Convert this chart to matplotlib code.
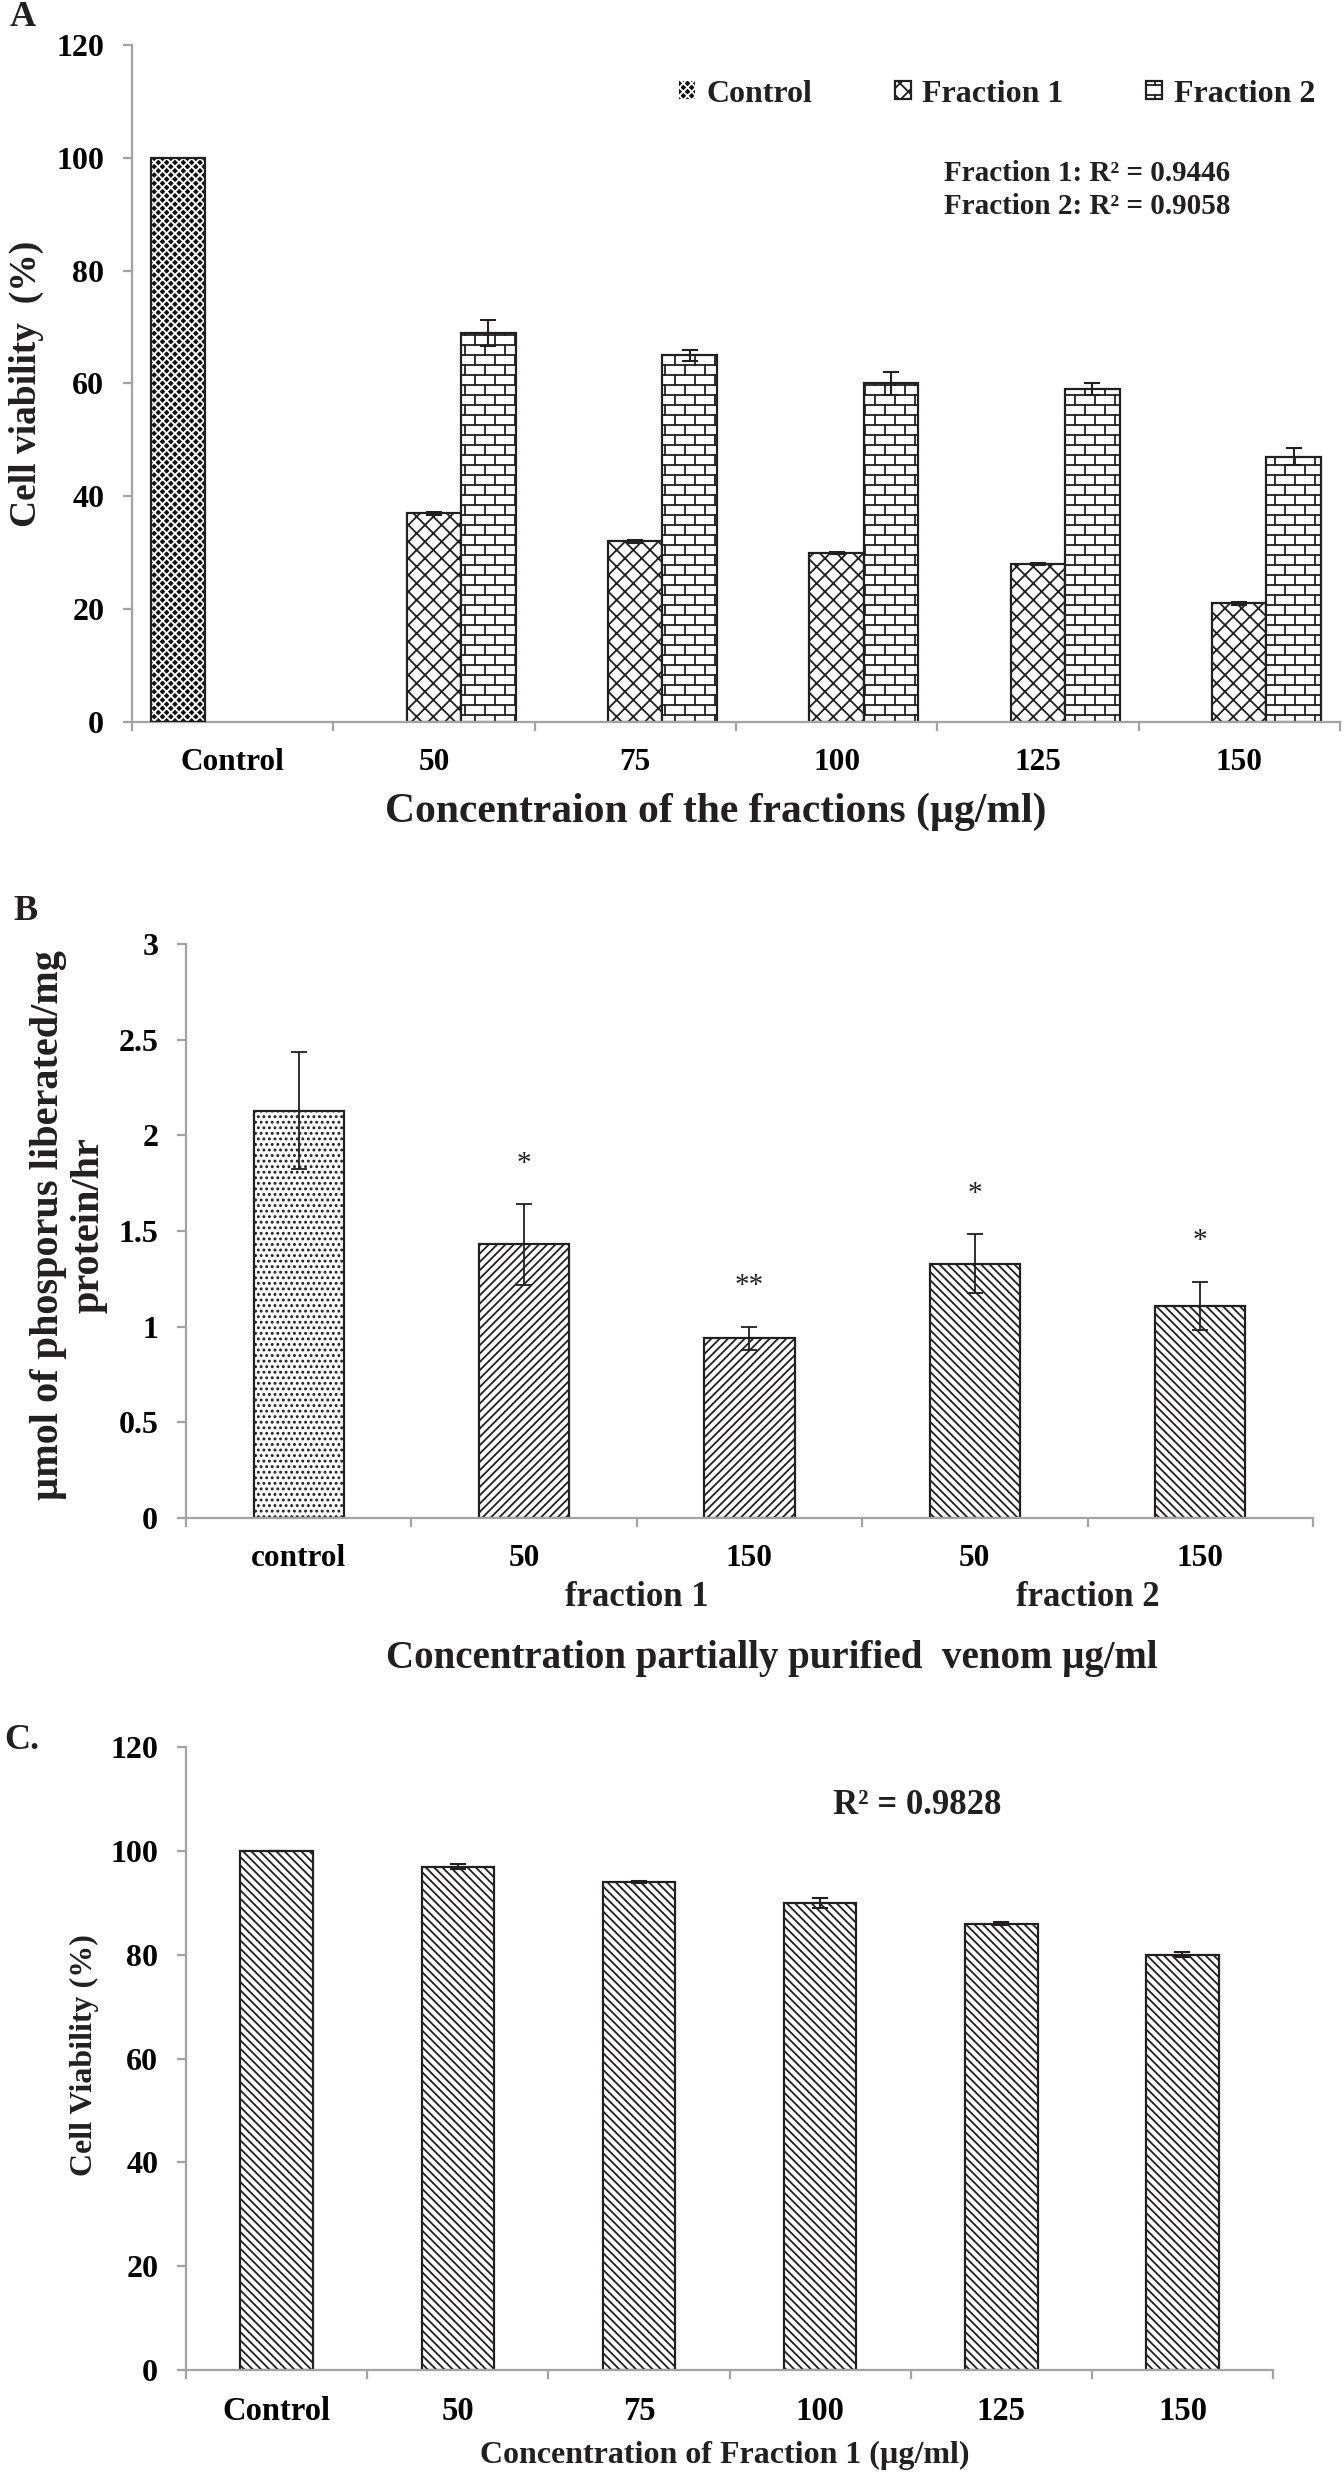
"""三联图: (A) 两个组分的细胞活力, (B) 磷释放量, (C) Fraction 1 细胞活力.

Excel 风格的黑白填充柱状图, 用 matplotlib 重画.
"""
import numpy as np
import matplotlib
matplotlib.use("Agg")
import matplotlib.pyplot as plt
from matplotlib import hatch as mhatch
from matplotlib.path import Path as MPath
from matplotlib.ticker import FixedLocator, NullFormatter

plt.rcParams["font.family"] = ["Liberation Serif", "DejaVu Serif"]
plt.rcParams["font.weight"] = "bold"
plt.rcParams["hatch.linewidth"] = 1.3

INK = "#231f20"
AXIS_GRAY = "#a3a3a3"
plt.rcParams["text.color"] = INK

# ---- A: cell viability, two fractions ----
a_categories = ["Control", "50", "75", "100", "125", "150"]
a_control = [100]
a_frac1 = [37, 32, 30, 28, 21]
a_frac1_err = [0.3, 0.3, 0.2, 0.2, 0.3]
a_frac2 = [69, 65, 60, 59, 47]
a_frac2_err = [2.3, 1.0, 2.0, 1.0, 1.5]
a_r2_frac1 = 0.9446
a_r2_frac2 = 0.9058

# ---- B: phosphorus liberated ----
b_labels = ["control", "50", "150", "50", "150"]
b_values = [2.13, 1.43, 0.94, 1.33, 1.11]
b_err = [0.305, 0.21, 0.06, 0.155, 0.125]
b_stars = ["", "*", "**", "*", "*"]
b_groups = ["fraction 1", "fraction 2"]
b_group_members = [(1, 2), (3, 4)]

# ---- C: cell viability, fraction 1 ----
c_categories = ["Control", "50", "75", "100", "125", "150"]
c_values = [100, 97, 94, 90, 86, 80]
c_err = [0, 0.5, 0.2, 0.9, 0.3, 0.5]
c_r2 = 0.9828


class BrickHatch(mhatch.HatchPatternBase):
    """砖墙填充, 借用 'O' 这个字符 (原本是大圆圈)."""

    def __init__(self, hatch, density):
        self.rows = int(hatch.count("O") * density * 5 / 3) // 2 * 2
        self.cols = self.rows // 2
        if self.rows:
            self.num_vertices = (self.rows + self.rows * self.cols + self.cols) * 2
        else:
            self.num_vertices = 0

    def set_vertices_and_codes(self, vertices, codes):
        nr, nc = self.rows, self.cols
        segs = []
        for r in range(nr):
            y0 = (r + 0.5) / nr
            segs.append([(0.0, y0), (1.0, y0)])
            shift = 0.25 if r % 2 == 0 else 0.75
            for c in range(nc):
                x = (c + shift) / nc
                segs.append([(x, y0), (x, min(1.0, y0 + 1.0 / nr))])
        # 最上面一行砖跨过图块边界, 底部补一截
        for c in range(nc):
            x = (c + 0.75) / nc
            segs.append([(x, 0.0), (x, 0.5 / nr)])
        vertices[:] = np.asarray(segs, float).reshape(-1, 2)
        codes[0::2] = MPath.MOVETO
        codes[1::2] = MPath.LINETO


mhatch._hatch_types[mhatch._hatch_types.index(mhatch.LargeCircles)] = BrickHatch

ERR_KW = dict(ecolor=INK, elinewidth=1.5, capsize=5.5, capthick=1.5, zorder=4)


def style_axes(ax, labels, ymax, ystep, xtick_size, yfmt="{:g}"):
    n = len(labels)
    for s in ("top", "right"):
        ax.spines[s].set_visible(False)
    for s in ("left", "bottom"):
        ax.spines[s].set_color(AXIS_GRAY)
        ax.spines[s].set_linewidth(1.6)
    ax.set_xlim(-0.5, n - 0.5)
    ax.set_ylim(0, ymax)
    # Excel 风格: 刻度在类别分界处, 标签在中间
    ax.xaxis.set_major_locator(FixedLocator(np.arange(n + 1) - 0.5))
    ax.xaxis.set_major_formatter(NullFormatter())
    ax.set_xticks(np.arange(n), labels, minor=True, fontsize=xtick_size)
    ax.tick_params(axis="x", which="major", length=6.5, width=1.6, color=AXIS_GRAY)
    ax.tick_params(axis="x", which="minor", length=0, pad=18.5)
    yt = np.arange(0, ymax + ystep / 2, ystep)
    ax.set_yticks(yt, [yfmt.format(v) for v in yt], fontsize=23)
    ax.tick_params(axis="y", length=6.5, width=1.6, color=AXIS_GRAY, pad=13.5)


fig = plt.figure(figsize=(13.44, 24.74), dpi=100)

# ================= A =================
axA = fig.add_axes([0.0982, 0.7082, 0.8988, 0.2736])
w = 0.27
x_ctrl = np.arange(len(a_control)) - w
x_conc = np.arange(1, len(a_categories))
axA.bar(x_ctrl, a_control, w, color="#111111", edgecolor="white", hatch="xxxx",
        linewidth=0, label="Control", zorder=2)
axA.bar(x_ctrl, a_control, w, fill=False, edgecolor=INK, linewidth=1.6, zorder=3)
axA.bar(x_conc, a_frac1, w, color="white", edgecolor=INK, hatch="xx", linewidth=1.6,
        yerr=a_frac1_err, error_kw=ERR_KW, label="Fraction 1", zorder=2)
axA.bar(x_conc + w, a_frac2, w, color="white", edgecolor=INK, hatch="O", linewidth=1.6,
        yerr=a_frac2_err, error_kw=ERR_KW, label="Fraction 2", zorder=2)
style_axes(axA, a_categories, 120, 20, 22.5)
axA.legend(ncol=3, loc="center left", bbox_to_anchor=(0.4528, 0.9276), frameon=False,
           fontsize=23, handlelength=0.5, handleheight=0.5, handletextpad=0.35,
           columnspacing=2.6, borderpad=0, borderaxespad=0)
axA.text(0.672, 0.786,
         f"Fraction 1: R\u00b2 = {a_r2_frac1}\nFraction 2: R\u00b2 = {a_r2_frac2}",
         transform=axA.transAxes, ha="left", va="center", fontsize=21, linespacing=1.3)
axA.text(0.4834, -0.133, "Concentraion of the fractions (\u00b5g/ml)",
         transform=axA.transAxes, ha="center", va="center", fontsize=30)
axA.text(-0.087, 0.5, "Cell viability  (%)", transform=axA.transAxes, rotation=90,
         ha="center", va="center", fontsize=27)

# ================= B =================
axB = fig.add_axes([0.1384, 0.3864, 0.8385, 0.2320])
xb = np.arange(len(b_labels))
b_hatches = ["...", "////", "////", "\\\\\\\\", "\\\\\\\\"]
for i in range(len(b_labels)):
    axB.bar(xb[i], b_values[i], 0.4, color="white", edgecolor=INK, hatch=b_hatches[i],
            linewidth=1.6, yerr=b_err[i], error_kw=dict(ERR_KW, elinewidth=1.3, capthick=1.3),
            zorder=2)
    if b_stars[i]:
        axB.annotate(b_stars[i], xy=(xb[i], b_values[i] + b_err[i]), xytext=(0, 24),
                     textcoords="offset points", ha="center", va="baseline",
                     fontsize=21, fontweight="normal")
style_axes(axB, b_labels, 3, 0.5, 22.5)
for name, members in zip(b_groups, b_group_members):
    axB.text(np.mean(members), -0.1376, name, transform=axB.get_xaxis_transform(),
             ha="center", va="center", fontsize=25)
axB.text(0.52, -0.2439, "Concentration partially purified  venom \u00b5g/ml",
         transform=axB.transAxes, ha="center", va="center", fontsize=28)
axB.text(-0.104, 0.51, "\u00b5mol of phosporus liberated/mg\nprotein/hr",
         transform=axB.transAxes, rotation=90, ha="center", va="center",
         multialignment="center", fontsize=29, linespacing=1.15)

# ================= C =================
axC = fig.add_axes([0.1384, 0.0420, 0.8088, 0.2518])
xc = np.arange(len(c_categories))
axC.bar(xc, c_values, 0.4, color="white", edgecolor=INK, hatch="\\\\\\\\", linewidth=1.6,
        yerr=c_err, error_kw=ERR_KW, zorder=2)
style_axes(axC, c_categories, 120, 20, 23.5)
axC.text(0.6725, 0.907, f"R\u00b2 = {c_r2}", transform=axC.transAxes,
         ha="center", va="center", fontsize=25)
axC.text(0.496, -0.1364, "Concentration of Fraction 1 (\u00b5g/ml)",
         transform=axC.transAxes, ha="center", va="center", fontsize=23)
axC.text(-0.0938, 0.505, "Cell Viability (%)", transform=axC.transAxes, rotation=90,
         ha="center", va="center", fontsize=23)

# 面板字母
fig.text(0.0171, 0.9931, "A", ha="center", va="center", fontsize=26)
fig.text(0.0193, 0.6314, "B", ha="center", va="center", fontsize=26)
fig.text(0.0164, 0.2963, "C.", ha="center", va="center", fontsize=26)

fig.savefig("out.png", dpi=100)
